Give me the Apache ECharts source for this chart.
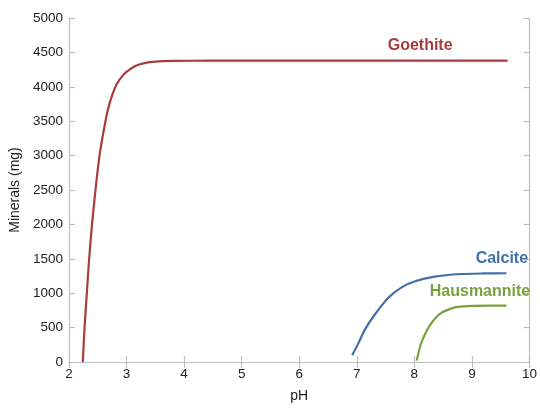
<!DOCTYPE html>
<html>
<head>
<meta charset="utf-8">
<script src="https://cdn.jsdelivr.net/npm/echarts@6/dist/echarts.min.js"></script>
<style>
html,body{margin:0;padding:0;background:#fff;}
#chart{width:540px;height:408px;}
</style>
</head>
<body>
<div id="chart"></div>
<script>
// ---- data ----
const goethitePH  = [2.24, 2.27, 2.31, 2.35, 2.40, 2.46, 2.53, 2.60, 2.67, 2.75, 2.83, 2.94, 3.05, 3.17, 3.31, 3.50, 3.80, 4.5, 5.5, 6.5, 7.5, 8.5, 9.62];
const goethiteMg  = [0, 500, 1000, 1500, 2000, 2500, 3000, 3350, 3650, 3880, 4040, 4170, 4250, 4310, 4345, 4367, 4376, 4380, 4380, 4380, 4380, 4380, 4380];
const calcitePH   = [6.92, 7.03, 7.14, 7.31, 7.54, 7.77, 8.00, 8.35, 8.81, 9.20, 9.60];
const calciteMg   = [100, 278, 470, 687, 928, 1082, 1169, 1241, 1279, 1287, 1290];
const hausPH      = [8.04, 8.11, 8.21, 8.32, 8.46, 8.70, 9.04, 9.30, 9.60];
const hausMg      = [20, 254, 447, 592, 711, 794, 817, 818, 818];
const xTicks      = [2, 3, 4, 5, 6, 7, 8, 9, 10];
const yTicks      = [0, 500, 1000, 1500, 2000, 2500, 3000, 3500, 4000, 4500, 5000];
const seriesNames = ['Goethite', 'Calcite', 'Hausmannite'];
const labelAnchors = [[8.1, 4593], [9.52, 1505], [9.14, 1025]];

// ---- styles ----
const colors = ['#a83c3c', '#4470a8', '#7aa03c'];
const axisGray = '#bfbfbf';
const font = 'Liberation Sans, Arial, Helvetica, sans-serif';

const zip = (a, b) => a.map((v, i) => [v, b[i]]);
const seriesData = [zip(goethitePH, goethiteMg), zip(calcitePH, calciteMg), zip(hausPH, hausMg)];

function mkSeries(i) {
  return {
    name: seriesNames[i],
    type: 'line',
    data: seriesData[i],
    smooth: 0.2,
    showSymbol: false,
    lineStyle: { color: colors[i], width: 2.2 },
    itemStyle: { color: colors[i] },
    z: 3,
    markPoint: {
      symbol: 'circle',
      symbolSize: 1,
      itemStyle: { color: 'rgba(0,0,0,0)' },
      label: {
        show: true, position: 'inside', formatter: seriesNames[i],
        color: colors[i], fontWeight: 'bold', fontSize: 16, fontFamily: font
      },
      data: [{ coord: labelAnchors[i] }]
    }
  };
}

const commonAxisLine = { show: true, lineStyle: { color: axisGray, width: 1.2 } };
const commonTick = { show: true, inside: true, length: 6, lineStyle: { color: axisGray, width: 1.2 } };
const plainNum = v => String(v);

const chart = echarts.init(document.getElementById('chart'), null, { renderer: 'canvas' });
chart.setOption({
  animation: false,
  backgroundColor: '#ffffff',
  grid: { left: 69, right: 8, top: 18, bottom: 44, containLabel: false },
  xAxis: [{
    type: 'value', min: xTicks[0], max: xTicks[xTicks.length - 1], interval: 1,
    name: 'pH', nameLocation: 'middle', nameGap: 27,
    nameTextStyle: { fontSize: 14, color: '#222', fontFamily: font },
    axisLine: commonAxisLine, axisTick: commonTick,
    axisLabel: { fontSize: 13.5, color: '#222', fontFamily: font, margin: 5, formatter: plainNum },
    splitLine: { show: false }
  }, {
    type: 'value', position: 'top', min: xTicks[0], max: xTicks[xTicks.length - 1], interval: 1,
    axisLine: commonAxisLine, axisTick: commonTick, axisLabel: { show: false }, splitLine: { show: false }
  }],
  yAxis: [{
    type: 'value', min: yTicks[0], max: yTicks[yTicks.length - 1], interval: 500,
    name: 'Minerals (mg)', nameLocation: 'middle', nameGap: 45,
    nameTextStyle: { fontSize: 14, color: '#222', fontFamily: font },
    axisLine: commonAxisLine, axisTick: commonTick,
    axisLabel: { fontSize: 13.5, color: '#222', fontFamily: font, margin: 6, formatter: plainNum },
    splitLine: { show: false }
  }, {
    type: 'value', position: 'right', min: yTicks[0], max: yTicks[yTicks.length - 1], interval: 500,
    axisLine: commonAxisLine, axisTick: commonTick, axisLabel: { show: false }, splitLine: { show: false }
  }],
  series: [mkSeries(0), mkSeries(1), mkSeries(2)]
});
</script>
</body>
</html>
